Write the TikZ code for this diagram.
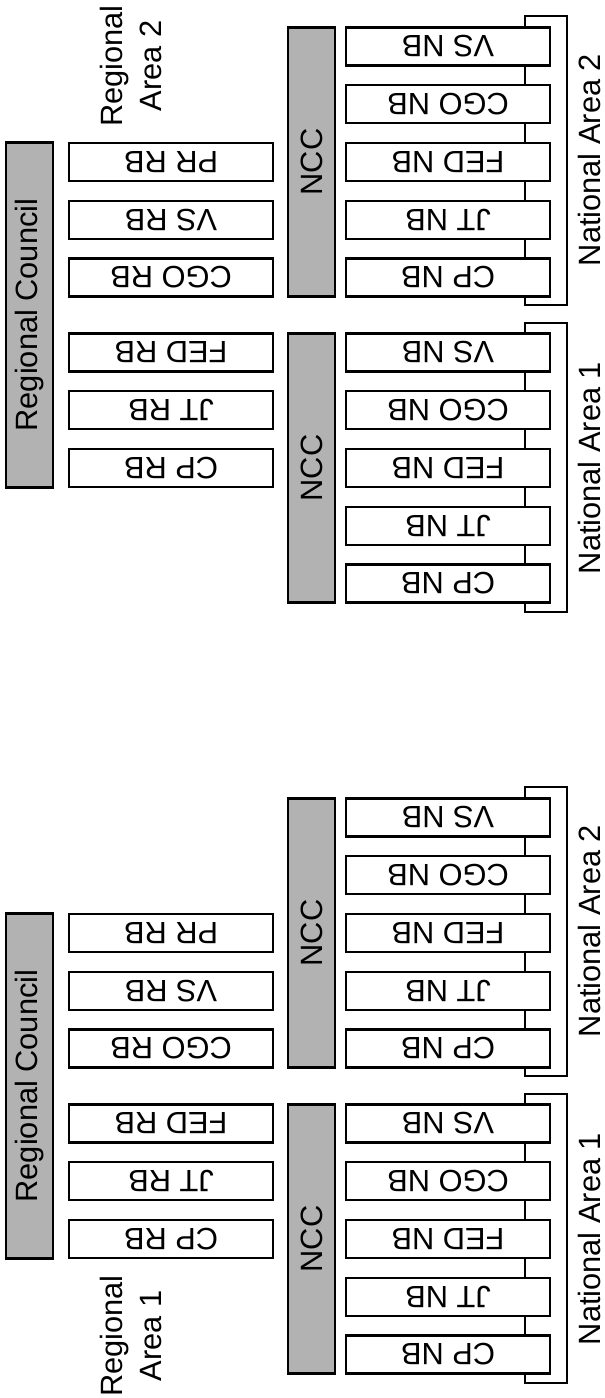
\documentclass[tikz,border=0pt]{standalone}
\usepackage{fontspec}
\setmainfont{Liberation Sans}
\tikzset{
  lw/.style={line width=2.2pt},
  box/.style={draw, lw, fill=white, rectangle, inner sep=0pt, outer sep=0pt,
    minimum width=204pt, minimum height=38pt, rotate=180},
  council/.style={draw, lw, fill=black!30, rectangle, inner sep=0pt, outer sep=0pt,
    minimum width=345pt, minimum height=47pt, rotate=90},
  ncc/.style={draw, lw, fill=black!30, rectangle, inner sep=0pt, outer sep=0pt,
    minimum width=269pt, minimum height=47pt, rotate=90},
  bracket/.style={draw, lw},
  lbl/.style={rotate=90, align=center, inner sep=0pt}
}
\begin{document}
\begin{tikzpicture}[x=1pt, y=-1pt, font=\fontsize{30.8}{39}\selectfont]
\useasboundingbox (0,0) rectangle (605,1398);
\foreach \p/\dy in {t/0, b/771} {
  \begin{scope}[shift={(0,\dy)}]
    % regional council
    \node[council] (\p rc) at (29.5,315) {Regional Council};
    % regional boards
    \foreach \lab/\yy [count=\i] in {CP RB/468, JT RB/410.25, FED RB/352.5, CGO RB/277.5, VS RB/219.75, PR RB/162}
      \node[box] (\p rb\i) at (171,\yy) {\lab};
    % national brackets
    \coordinate (\p g2a) at (525,16);
    \coordinate (\p g2b) at (567,305);
    \coordinate (\p g1a) at (525,323);
    \coordinate (\p g1b) at (567,612);
    \draw[bracket] (\p g2a) rectangle (\p g2b);
    \draw[bracket] (\p g1a) rectangle (\p g1b);
    % NCCs
    \node[ncc] (\p ncc2) at (311.5,162) {NCC};
    \node[ncc] (\p ncc1) at (311.5,468) {NCC};
    % national boards, area 2
    \foreach \lab/\yy [count=\i] in {CP NB/277.5, JT NB/219.75, FED NB/162, CGO NB/104.25, VS NB/46.5}
      \node[box] (\p nbb\i) at (448,\yy) {\lab};
    % national boards, area 1
    \foreach \lab/\yy [count=\i] in {CP NB/583.5, JT NB/525.75, FED NB/468, CGO NB/410.25, VS NB/352.5}
      \node[box] (\p nba\i) at (448,\yy) {\lab};
    \node[lbl] (\p na2) at (589.5,160) {National Area 2};
    \node[lbl] (\p na1) at (589.5,468) {National Area 1};
  \end{scope}
}
\node[lbl] (ra2) at (131,66) {Regional\\Area 2};
\node[lbl] (ra1) at (131,1336) {Regional\\Area 1};
\end{tikzpicture}
\end{document}
